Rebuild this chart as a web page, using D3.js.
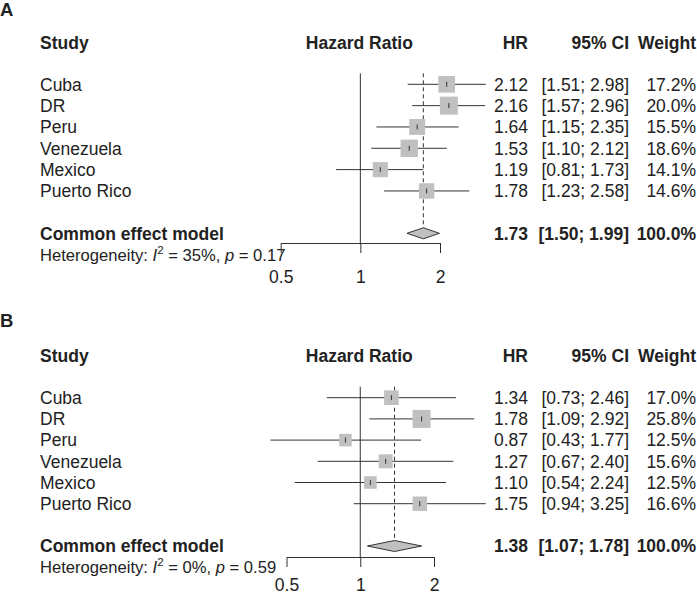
<!DOCTYPE html>
<html>
<head>
<meta charset="utf-8">
<script src="https://cdn.jsdelivr.net/npm/d3@7"></script>
<style>
  html, body { margin: 0; padding: 0; background: #fff; }
  svg { display: block; font-family: "Liberation Sans", Arial, sans-serif; }
</style>
</head>
<body>
<svg id="chart" width="697" height="596"></svg>
<script>
// ---------- data ----------
const studies = ["Cuba", "DR", "Peru", "Venezuela", "Mexico", "Puerto Rico"];
const tickValues = [0.5, 1, 2];
const tickLabels = ["0.5", "1", "2"];

// Panel A
const hrA     = [2.12, 2.16, 1.64, 1.53, 1.19, 1.78];
const lowerA  = [1.51, 1.57, 1.15, 1.10, 0.81, 1.23];
const upperA  = [2.98, 2.96, 2.35, 2.12, 1.73, 2.58];
const weightA = [17.2, 20.0, 15.5, 18.6, 14.1, 14.6];
const commonA = [1.73, 1.50, 1.99];
const hetA    = ["35%", "0.17"];

// Panel B
const hrB     = [1.34, 1.78, 0.87, 1.27, 1.10, 1.75];
const lowerB  = [0.73, 1.09, 0.43, 0.67, 0.54, 0.94];
const upperB  = [2.46, 2.92, 1.77, 2.40, 2.24, 3.25];
const weightB = [17.0, 25.8, 12.5, 15.6, 12.5, 16.6];
const commonB = [1.38, 1.07, 1.78];
const hetB    = ["0%", "0.59"];

// ---------- drawing ----------
const svg = d3.select("#chart");
const TXT = "#222";
const LN = "#333";
const FS = 17.5;
const CAP = FS * 0.716 / 2;

function drawPanel(p) {
  const g = svg.append("g");
  const x = d3.scaleLog().domain([0.5, 2]).range(p.xRange);
  const rowY = i => p.y0 + i * p.step;
  const boxSize = d3.scaleSqrt().domain([0, d3.max(p.w)]).range([0, 18]);
  const fmt2 = d3.format(".2f");
  const fmt1 = d3.format(".1f");

  // panel letter
  g.append("text").attr("x", 0).attr("y", p.letterY)
    .attr("font-size", 18.5).attr("font-weight", "bold").attr("fill", TXT).text(p.letter);

  // headers
  const hdr = g.append("g").attr("font-size", FS).attr("font-weight", "bold").attr("fill", TXT);
  const hy = p.headerY + CAP;
  hdr.append("text").attr("x", 40).attr("y", hy).text("Study");
  hdr.append("text").attr("x", x(1) - 1).attr("y", hy).attr("text-anchor", "middle").text("Hazard Ratio");
  hdr.append("text").attr("x", 528).attr("y", hy).attr("text-anchor", "end").text("HR");
  hdr.append("text").attr("x", 629).attr("y", hy).attr("text-anchor", "end").text("95% CI");
  hdr.append("text").attr("x", 696).attr("y", hy).attr("text-anchor", "end").text("Weight");

  const commonY = p.commonY;
  const top = rowY(0) - 11;

  // reference line at 1
  g.append("line").attr("x1", x(1)).attr("x2", x(1))
    .attr("y1", top).attr("y2", p.axisY).attr("stroke", LN).attr("stroke-width", 1);
  // dashed common-effect line
  g.append("line").attr("x1", x(p.common[0])).attr("x2", x(p.common[0]))
    .attr("y1", top).attr("y2", commonY - 5.5).attr("stroke", LN)
    .attr("stroke-width", 1).attr("stroke-dasharray", "4,3");

  // studies
  studies.forEach((s, i) => {
    const y = rowY(i);
    g.append("line").attr("x1", x(p.lo[i])).attr("x2", x(p.up[i]))
      .attr("y1", y).attr("y2", y).attr("stroke", LN).attr("stroke-width", 1);
    const b = boxSize(p.w[i]);
    g.append("rect").attr("x", x(p.hr[i]) - b / 2).attr("y", y - b / 2)
      .attr("width", b).attr("height", b).attr("fill", "#c0c0c0");
    g.append("line").attr("x1", x(p.hr[i])).attr("x2", x(p.hr[i]))
      .attr("y1", y - 2.5).attr("y2", y + 2.5).attr("stroke", LN).attr("stroke-width", 1);

    const t = g.append("g").attr("font-size", FS).attr("fill", TXT);
    t.append("text").attr("x", 40).attr("y", y + CAP).text(s);
    t.append("text").attr("x", 528).attr("y", y + CAP).attr("text-anchor", "end").text(fmt2(p.hr[i]));
    t.append("text").attr("x", 629).attr("y", y + CAP).attr("text-anchor", "end")
      .text("[" + fmt2(p.lo[i]) + "; " + fmt2(p.up[i]) + "]");
    t.append("text").attr("x", 696).attr("y", y + CAP).attr("text-anchor", "end").text(fmt1(p.w[i]) + "%");
  });

  // diamond
  const c = p.common;
  g.append("path")
    .attr("d", `M${x(c[1])},${commonY} L${x(c[0])},${commonY - 5.5} L${x(c[2])},${commonY} L${x(c[0])},${commonY + 5.5} Z`)
    .attr("fill", "#c0c0c0").attr("stroke", LN).attr("stroke-width", 1);

  const ct = g.append("g").attr("font-size", FS).attr("font-weight", "bold").attr("fill", TXT);
  ct.append("text").attr("x", 40).attr("y", commonY + CAP).text("Common effect model");
  ct.append("text").attr("x", 528).attr("y", commonY + CAP).attr("text-anchor", "end").text(fmt2(c[0]));
  ct.append("text").attr("x", 629).attr("y", commonY + CAP).attr("text-anchor", "end")
    .text("[" + fmt2(c[1]) + "; " + fmt2(c[2]) + "]");
  ct.append("text").attr("x", 696).attr("y", commonY + CAP).attr("text-anchor", "end").text("100.0%");

  // heterogeneity
  const het = g.append("text").attr("x", 40).attr("y", p.hetY + 6)
    .attr("font-size", 16.6).attr("fill", TXT);
  het.append("tspan").text("Heterogeneity: ");
  het.append("tspan").attr("font-style", "italic").text("I");
  het.append("tspan").attr("font-size", 11.5).attr("dy", -7).text("2");
  het.append("tspan").attr("dy", 7).text(" = " + p.het[0] + ", ");
  het.append("tspan").attr("font-style", "italic").text("p");
  het.append("tspan").text(" = " + p.het[1]);

  // axis
  const axis = d3.axisBottom(x).tickValues(tickValues)
    .tickFormat((d, i) => tickLabels[i]).tickSizeInner(10).tickSizeOuter(0).tickPadding(p.tickPad);
  const ag = g.append("g").attr("transform", `translate(0,${p.axisY})`).call(axis);
  ag.selectAll("path, line").attr("stroke", LN);
  ag.selectAll("text").attr("font-size", FS).attr("fill", TXT)
    .attr("font-family", "Liberation Sans, Arial, sans-serif");
}

drawPanel({
  letter: "A", letterY: 15.5, xRange: [280.7, 440],
  headerY: 43, y0: 84.3, step: 21.33, commonY: 233.3, hetY: 254.5, axisY: 243, tickPad: 18,
  hr: hrA, lo: lowerA, up: upperA, w: weightA, common: commonA, het: hetA
});
drawPanel({
  letter: "B", letterY: 327, xRange: [286.5, 434],
  headerY: 355.7, y0: 397.7, step: 21.2, commonY: 546, hetY: 567, axisY: 557, tickPad: 12,
  hr: hrB, lo: lowerB, up: upperB, w: weightB, common: commonB, het: hetB
});
</script>
</body>
</html>
